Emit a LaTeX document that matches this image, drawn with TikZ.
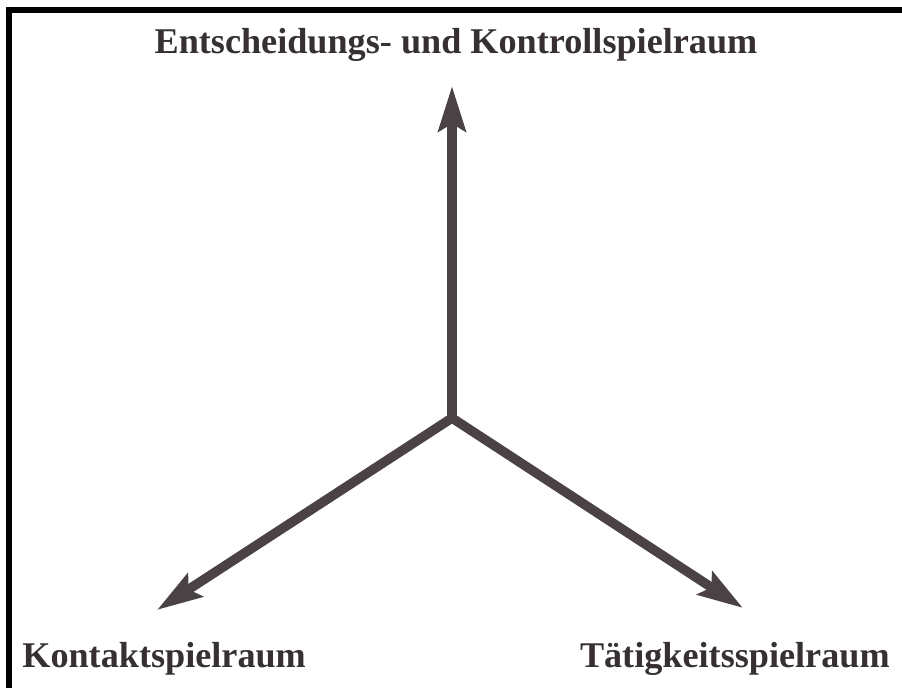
\documentclass[tikz,border=0pt]{standalone}
\usepackage{fontspec}
\setmainfont{Liberation Serif}
\usetikzlibrary{arrows.meta}
\definecolor{axisgray}{HTML}{4A4244}
\definecolor{textgray}{HTML}{363032}
\tikzset{
  axis/.style={line width=5.4pt, color=axisgray, line cap=round,
    -{Stealth[length=0.9cm,width=0.54cm,inset=0.15cm]}},
  lbl/.style={font=\bfseries\fontsize{20.6}{24}\selectfont, text=textgray,
    inner sep=0pt, anchor=base}
}
\begin{document}
\begin{tikzpicture}[x=0.02cm,y=-0.02cm]
\useasboundingbox (0,0) rectangle (902,688);
%% frame
  \fill[black] (6,7) rectangle (902,13);
  \fill[black] (6,7) rectangle (12,688);

%% axes
  \coordinate (centre) at (452,418);
  \coordinate (up) at (452,86);
  \coordinate (left) at (157,610);
  \coordinate (right) at (743,608);
  \draw[axis] (centre) -- (up);
  \draw[axis] (centre) -- (left);
  \draw[axis] (centre) -- (right);

%% labels
  \node[lbl] (entscheid) at (456,54) {Entscheidungs- und Kontrollspielraum};
  \node[lbl,anchor=base west] (kontakt) at (22,667) {Kontaktspielraum};
  \node[lbl,anchor=base east] (taetig) at (890,667) {Tätigkeitsspielraum};
\end{tikzpicture}
\end{document}
